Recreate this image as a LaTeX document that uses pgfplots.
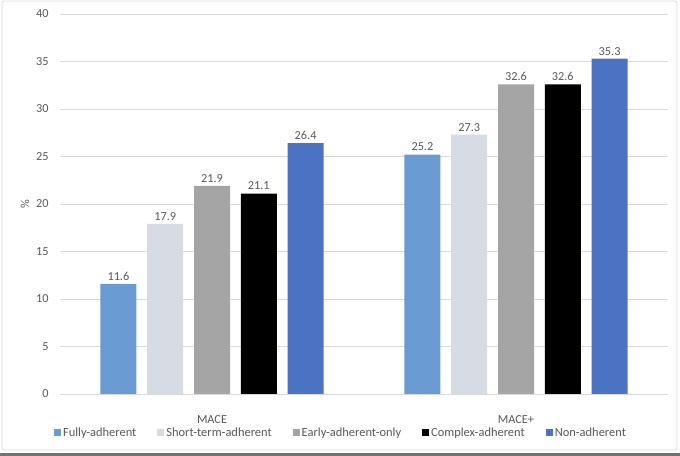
\documentclass[border=0pt]{standalone}
\usepackage{pgfplots}
\pgfplotsset{compat=1.18}
\usepackage{fontspec}
\setmainfont{Carlito}
\definecolor{txt}{HTML}{595959}
\definecolor{gridc}{HTML}{D9D9D9}
\definecolor{cFully}{HTML}{6A9BD3}
\definecolor{cShort}{HTML}{D6DBE4}
\definecolor{cEarly}{HTML}{A5A5A5}
\definecolor{cComplex}{HTML}{000000}
\definecolor{cNon}{HTML}{4C72C2}
\begin{document}
\begin{tikzpicture}
\path[use as bounding box] (0bp,0bp) rectangle (680bp,456bp);
\fill[white] (0bp,0bp) rectangle (680bp,456bp);
\draw[black!15, line width=0.8bp, rounded corners=2bp] (2bp,6bp) rectangle (677bp,455bp);
\fill[black!55] (0bp,0bp) rectangle (680bp,2.5bp);
\begin{axis}[
  at={(60bp,62bp)}, anchor=south west,
  scale only axis, width=608bp, height=380bp,
  ybar=10.8bp, bar width=36bp,
  xmin=-0.5, xmax=1.5, ymin=0, ymax=40,
  xtick={0,1}, xticklabels={MACE,MACE+},
  ytick={0,5,...,40},
  ymajorgrids, grid style={gridc, line width=0.8bp},
  axis x line*=bottom, axis y line*=left,
  x axis line style={gridc, line width=0.8bp, -},
  y axis line style={draw=none},
  major tick length=0pt,
  /pgf/number format/assume math mode=true,
  tick label style={font=\fontsize{12.3}{14}\selectfont, text=txt},
  xticklabel style={yshift=-18bp},
  yticklabel style={xshift=-8bp},
  ylabel={\%}, ylabel style={font=\fontsize{12.3}{14}\selectfont, text=txt},
  nodes near coords,
  every node near coord/.append style={font=\fontsize{12.3}{14}\selectfont, text=txt, /pgf/number format/.cd, fixed, fixed zerofill, precision=1, assume math mode=true},
  legend columns=-1,
  legend style={at={(rel axis cs:0.5,0)}, yshift=-39bp, xshift=-23bp, anchor=center, draw=none, fill=none,
    font=\fontsize{12.5}{14}\selectfont, text=txt,
    /tikz/every even column/.append style={column sep=19bp}},
  legend image code/.code={\fill[#1] (0bp,-3.5bp) rectangle (7bp,3.5bp);},
]
\addplot[fill=cFully, draw=none] coordinates {(0,11.6) (1,25.2)};
\addplot[fill=cShort, draw=none] coordinates {(0,17.9) (1,27.3)};
\addplot[fill=cEarly, draw=none] coordinates {(0,21.9) (1,32.6)};
\addplot[fill=cComplex, draw=none] coordinates {(0,21.1) (1,32.6)};
\addplot[fill=cNon, draw=none] coordinates {(0,26.4) (1,35.3)};
\legend{Fully-adherent,Short-term-adherent,Early-adherent-only,Complex-adherent,Non-adherent}
\end{axis}
\end{tikzpicture}
\end{document}
